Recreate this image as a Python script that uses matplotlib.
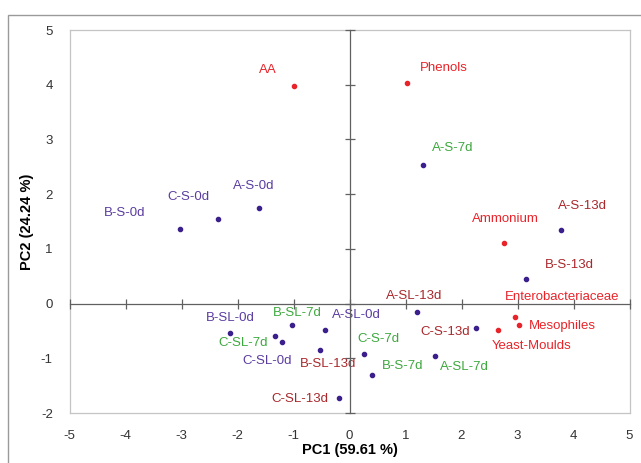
import matplotlib.pyplot as plt
from matplotlib.patches import Rectangle

plt.rcParams['font.family'] = ['Liberation Sans', 'DejaVu Sans']
plt.rcParams['axes.unicode_minus'] = False

# Sample scores (purple points)
sample_names = ['A-S-0d', 'B-S-0d', 'C-S-0d', 'A-S-7d', 'A-S-13d', 'B-S-13d',
                'A-SL-13d', 'C-S-13d', 'A-SL-7d', 'B-S-7d', 'C-S-7d',
                'A-SL-0d', 'B-SL-0d', 'C-SL-0d', 'B-SL-7d', 'C-SL-7d',
                'B-SL-13d', 'C-SL-13d']
sample_pc1 = [-1.61, -3.02, -2.34, 1.32, 3.78, 3.15,
              1.20, 2.26, 1.53, 0.41, 0.26,
              -0.44, -2.13, -1.21, -1.03, -1.33,
              -0.52, -0.18]
sample_pc2 = [1.75, 1.37, 1.54, 2.53, 1.34, 0.45,
              -0.15, -0.44, -0.95, -1.31, -0.93,
              -0.49, -0.53, -0.71, -0.40, -0.60,
              -0.84, -1.72]

# Variable loadings (red points)
var_names = ['AA', 'Phenols', 'Ammonium', 'Enterobacteriaceae', 'Mesophiles', 'Yeast-Moulds']
var_pc1 = [-0.99, 1.02, 2.76, 2.96, 3.02, 2.65]
var_pc2 = [3.98, 4.04, 1.10, -0.25, -0.40, -0.48]

# label offsets in pixels (dx, dy up)
label_offsets = {
    'A-S-0d': (-6, 22), 'B-S-0d': (-56, 16), 'C-S-0d': (-30, 22),
    'A-S-7d': (29, 17), 'A-S-13d': (21, 24), 'B-S-13d': (43, 14),
    'A-SL-13d': (-3, 16), 'C-S-13d': (-31, -4), 'A-SL-7d': (29, -11),
    'B-S-7d': (30, 9), 'C-S-7d': (14, 15), 'A-SL-0d': (32, 15),
    'B-SL-0d': (0, 15), 'C-SL-0d': (-15, -19), 'B-SL-7d': (5, 12),
    'C-SL-7d': (-32, -7), 'B-SL-13d': (8, -14), 'C-SL-13d': (-40, -1),
    'AA': (-26, 16), 'Phenols': (37, 15), 'Ammonium': (1, 24),
    'Enterobacteriaceae': (47, 20), 'Mesophiles': (44, -1), 'Yeast-Moulds': (34, -16),
}

purple_pt = '#3B1F8C'
purple_txt = '#5A3CA0'
green_txt = '#3DA83D'
darkred_txt = '#A8282C'
red = '#E8242A'


def label_color(name):
    if name.endswith('-0d'):
        return purple_txt
    if name.endswith('-7d'):
        return green_txt
    return darkred_txt


fig = plt.figure(figsize=(6.41, 4.63), dpi=100)
fig.patches.append(Rectangle((8 / 641, -0.1), 1.2, 1 - 15 / 463 + 0.1,
                             transform=fig.transFigure, fill=False,
                             edgecolor='#9A9A9A', linewidth=1.0))

pos = [69.5 / 641, 1 - 413 / 463, 560 / 641, 383 / 463]
ax = fig.add_axes(pos)
ax.set_xlim(-5, 5)
ax.set_ylim(-2, 5)
for s in ax.spines.values():
    s.set_color('#C4C4C4')
    s.set_linewidth(0.9)
ax.set_xticks(range(-5, 6))
ax.set_yticks(range(-2, 6))
ax.tick_params(length=0, labelsize=9.5, labelcolor='#333333')
ax.tick_params(axis='x', pad=12)
ax.tick_params(axis='y', pad=12)
ax.set_xlabel('PC1 (59.61 %)', fontsize=10.5, fontweight='bold', labelpad=1)
ax.set_ylabel('PC2 (24.24 %)', fontsize=10.5, fontweight='bold', labelpad=5)

# center axes through zero
ax0 = fig.add_axes(pos, sharex=ax, sharey=ax)
ax0.patch.set_visible(False)
for side in ['top', 'right']:
    ax0.spines[side].set_visible(False)
for side in ['left', 'bottom']:
    ax0.spines[side].set_position(('data', 0))
    ax0.spines[side].set_color('#606060')
    ax0.spines[side].set_linewidth(0.9)
ax0.tick_params(direction='inout', length=7, width=0.9, color='#606060',
                labelbottom=False, labelleft=False)

ax.scatter(sample_pc1, sample_pc2, s=9, color=purple_pt, zorder=3)
ax.scatter(var_pc1, var_pc2, s=9, color=red, zorder=3)

for n, x, y in zip(sample_names, sample_pc1, sample_pc2):
    dx, dy = label_offsets[n]
    ax.annotate(n, (x, y), xytext=(dx * 0.72, dy * 0.72), textcoords='offset points',
                ha='center', va='center', fontsize=9.5, color=label_color(n))
for n, x, y in zip(var_names, var_pc1, var_pc2):
    dx, dy = label_offsets[n]
    ax.annotate(n, (x, y), xytext=(dx * 0.72, dy * 0.72), textcoords='offset points',
                ha='center', va='center', fontsize=9.5, color=red)

fig.savefig('out.png', dpi=100, facecolor='white')
